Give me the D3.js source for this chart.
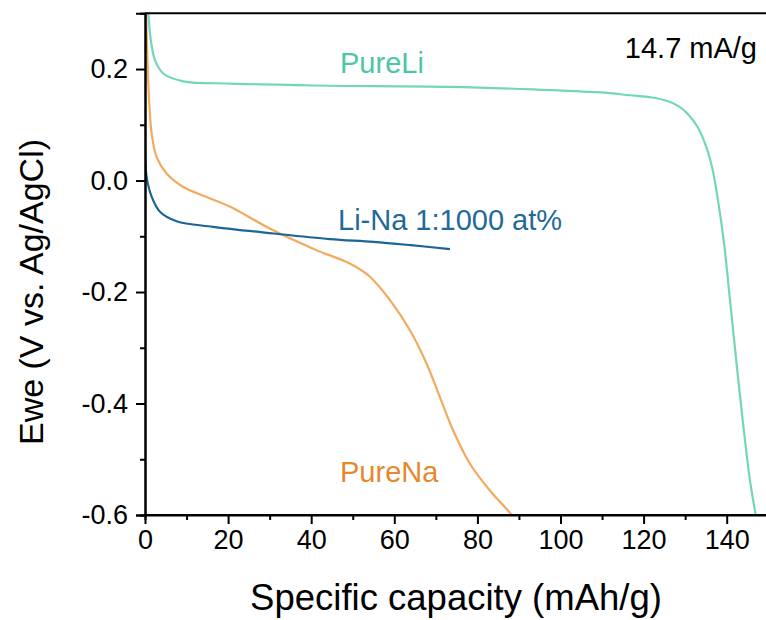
<!DOCTYPE html>
<html>
<head>
<meta charset="utf-8">
<script src="https://cdn.jsdelivr.net/npm/d3@7"></script>
<style>
  body { margin: 0; background: #fff; }
  svg { font-family: "Liberation Sans", Arial, sans-serif; }
</style>
</head>
<body>
<div class="container"></div>
<script>
// data
const liCap = [0.5, 0.8, 1.4, 2.4, 4.4, 9.2, 20.5, 37.3, 44.5, 73.4, 93.4, 109.5, 116.7, 122.0, 125.6, 128.5, 130.8, 133.0, 135.0, 136.6, 138.0, 139.4, 140.8, 142.4, 144.0, 145.6, 147.0, 147.4];
const liV   = [0.33, 0.30, 0.252, 0.216, 0.192, 0.178, 0.174, 0.171, 0.170, 0.168, 0.1635, 0.158, 0.153, 0.149, 0.143, 0.133, 0.118, 0.096, 0.062, 0.020, -0.040, -0.115, -0.215, -0.330, -0.440, -0.538, -0.601, -0.62];

const naCap = [0.1, 0.24, 0.8, 1.6, 2.8, 5.2, 9.2, 15.0, 20.5, 30.5, 41.3, 49.3, 54.2, 59.0, 63.8, 67.8, 71.0, 74.2, 78.2, 83.0, 88.3, 89.0];
const naV   = [0.33, 0.30, 0.174, 0.084, 0.042, 0.0126, -0.0115, -0.030, -0.047, -0.088, -0.125, -0.149, -0.173, -0.215, -0.269, -0.329, -0.389, -0.449, -0.508, -0.556, -0.600, -0.607];

const mixCap = [0, 0.4, 1.6, 3.6, 7.6, 16.4, 30.9, 44.5, 55.0, 64.0, 73.4];
const mixV   = [0.051, 0.006, -0.029, -0.056, -0.073, -0.083, -0.095, -0.105, -0.110, -0.116, -0.123];

const xTicks = [0, 20, 40, 60, 80, 100, 120, 140];
const yTicks = [0.2, 0.0, -0.2, -0.4, -0.6];

const w = 766, h = 620;
const padLeft = 145, padTop = 13.3, padBottom = 515;

const svg = d3.select(".container").append("svg")
  .attr("width", w).attr("height", h);

const xScale = d3.scaleLinear().domain([0, 150]).range([padLeft, padLeft + 4.155 * 150]);
const yScale = d3.scaleLinear().domain([-0.6, 0.3]).range([padBottom, padTop]);

svg.append("clipPath").attr("id", "plot")
  .append("rect").attr("x", padLeft).attr("y", padTop)
  .attr("width", xScale(150) - padLeft).attr("height", padBottom - padTop);

const line = d3.line()
  .x(d => xScale(d[0]))
  .y(d => yScale(d[1]))
  .curve(d3.curveCatmullRom.alpha(0.5));

const series = [
  {cap: liCap, v: liV, color: "#72d6bb"},
  {cap: naCap, v: naV, color: "#f2aa5c"},
  {cap: mixCap, v: mixV, color: "#1a6596"}
];

svg.append("g").attr("clip-path", "url(#plot)")
  .selectAll("path")
  .data(series)
  .enter()
  .append("path")
  .attr("d", s => line(s.cap.map((c, i) => [c, s.v[i]])))
  .attr("fill", "none")
  .attr("stroke", s => s.color)
  .attr("stroke-width", 2.2);

// frame top line (right side is cut off by the image edge)
svg.append("line")
  .attr("x1", padLeft).attr("x2", w + 5)
  .attr("y1", padTop).attr("y2", padTop)
  .attr("stroke", "#000").attr("stroke-width", 2);

// minor ticks
const xAxisMinor = d3.axisBottom(xScale).tickValues(d3.range(10, 150, 20)).tickSize(5).tickFormat("");
const yAxisMinor = d3.axisLeft(yScale).tickValues([0.3, 0.1, -0.1, -0.3, -0.5]).tickSize(5).tickFormat("");

const xAxis = d3.axisBottom(xScale).tickValues(xTicks).tickSize(9).tickPadding(6)
  .tickFormat(d => String(d));
const yAxis = d3.axisLeft(yScale).tickValues(yTicks).tickSize(9).tickPadding(8)
  .tickFormat(d => d.toFixed(1));

function styleAxis(g) {
  g.select(".domain").attr("stroke", "#000").attr("stroke-width", 2);
  g.selectAll(".tick line").attr("stroke", "#000").attr("stroke-width", 2);
  g.selectAll("text").attr("font-size", 27).attr("fill", "#000")
    .attr("font-family", "Liberation Sans, Arial, sans-serif");
}

svg.append("g").attr("transform", "translate(0," + padBottom + ")").call(xAxisMinor).call(styleAxis);
svg.append("g").attr("transform", "translate(" + padLeft + ",0)").call(yAxisMinor).call(styleAxis);
svg.append("g").attr("transform", "translate(0," + padBottom + ")").call(xAxis).call(styleAxis)
  .select(".domain").attr("d", "M" + padLeft + ",0H" + (w + 5));
svg.append("g").attr("transform", "translate(" + padLeft + ",0)").call(yAxis).call(styleAxis);

// axis titles
svg.append("text")
  .attr("x", 456).attr("y", 610)
  .attr("text-anchor", "middle")
  .attr("font-size", 36.5)
  .text("Specific capacity (mAh/g)");

svg.append("text")
  .attr("transform", "translate(43,292) rotate(-90)")
  .attr("text-anchor", "middle")
  .attr("font-size", 34)
  .text("Ewe (V vs. Ag/AgCl)");

// annotations
const notes = [
  {text: "PureLi", x: 340, y: 73, color: "#4cc6a6", anchor: "start"},
  {text: "Li-Na 1:1000 at%", x: 338, y: 230, color: "#1f6a99", anchor: "start"},
  {text: "PureNa", x: 340, y: 482, color: "#e8872d", anchor: "start"},
  {text: "14.7 mA/g", x: 757, y: 58, color: "#000", anchor: "end"}
];

svg.selectAll(".note")
  .data(notes)
  .enter()
  .append("text")
  .attr("class", "note")
  .attr("x", d => d.x).attr("y", d => d.y)
  .attr("text-anchor", d => d.anchor)
  .attr("fill", d => d.color)
  .attr("font-size", 29)
  .text(d => d.text);
</script>
</body>
</html>
